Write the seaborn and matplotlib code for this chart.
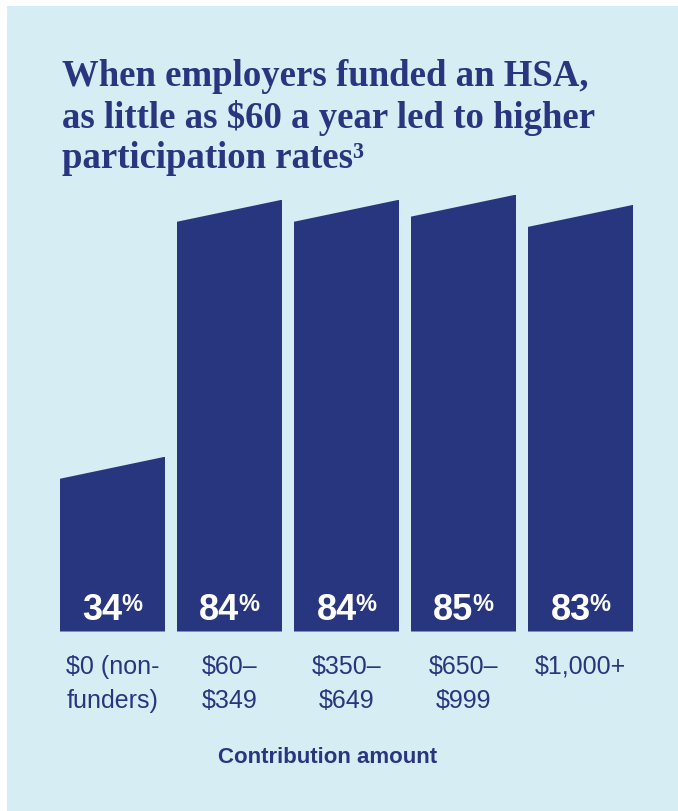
import matplotlib
matplotlib.use("Agg")
import matplotlib.pyplot as plt
from matplotlib.patches import Rectangle, Polygon
import seaborn as sns
import pandas as pd

# ---- data ----
categories = ["$0 (non-\nfunders)", "$60–\n$349", "$350–\n$649", "$650–\n$999", "$1,000+"]
participation = [34, 84, 84, 85, 83]
value_labels = ["34", "84", "84", "85", "83"]
title_lines = ["When employers funded an HSA,",
               "as little as $60 a year led to higher",
               "participation rates³"]
xlabel = "Contribution amount"

NAVY = "#283680"
BG = "#d6edf3"

sns.set_theme(style="white")
plt.rcParams["font.family"] = ["Liberation Sans", "DejaVu Sans"]

W, H = 678, 812
fig = plt.figure(figsize=(W / 100, H / 100), dpi=100)
fig.patch.set_facecolor("white")
fig.add_artist(Rectangle((7 / W, 0), 1, (H - 7) / H, transform=fig.transFigure,
                         facecolor=BG, edgecolor="none", zorder=0))

# axes: category -0.5 at 54px, 4.5 at 639px; bottom at 632px
px_per_unit = 5.14
ymax = 90
ax_h = ymax * px_per_unit
ax = fig.add_axes([54 / W, (H - 632.5) / H, 585 / W, ax_h / H])
ax.set_facecolor("none")

df = pd.DataFrame({"cat": categories, "val": participation})
sns.barplot(data=df, x="cat", y="val", ax=ax, color=NAVY, saturation=1,
            width=105 / 117, edgecolor="none", linewidth=0)
ax.set_xlim(-0.5, 4.5)
ax.set_ylim(0, ymax)
for s in ax.spines.values():
    s.set_visible(False)
ax.set_yticks([])
ax.set_xlabel("")
ax.set_ylabel("")
ax.tick_params(axis="x", length=0, pad=16, labelsize=18, labelcolor=NAVY)
for lab in ax.get_xticklabels():
    lab.set_linespacing(1.55)

# slanted tops via clipping
slant = 22 / px_per_unit
for p in ax.patches:
    x0 = p.get_x()
    x1 = x0 + p.get_width()
    h = p.get_height()
    clip = Polygon([(x0, 0), (x1, 0), (x1, h), (x0, h - slant)], closed=True,
                   transform=ax.transData, facecolor="none", edgecolor="none")
    p.set_clip_path(clip)

# value labels: number + superscript percent
fig.canvas.draw()
r = fig.canvas.get_renderer()
for p, lab in zip(ax.patches, value_labels):
    cx = p.get_x() + p.get_width() / 2
    tn = ax.annotate(lab, (cx, 0), xytext=(0, 12), textcoords="offset pixels",
                     ha="left", va="baseline", color="white", fontsize=26,
                     fontweight="bold")
    tp = ax.annotate("%", (cx, 0), xytext=(0, 21), textcoords="offset pixels",
                     ha="left", va="baseline", color="white", fontsize=17,
                     fontweight="bold")
    wn = tn.get_window_extent(r).width
    wp = tp.get_window_extent(r).width
    gap = -1
    total = wn + gap + wp
    tn.set_position((-total / 2, 12))
    tp.set_position((-total / 2 + wn + gap, 21))

# title lines
for i, line in enumerate(title_lines):
    base = [86, 127.5, 168][i]
    fig.text(62 / W, 1 - base / H, line, ha="left", va="baseline",
             fontsize=26.5, fontweight="bold", color=NAVY,
             family=["Liberation Serif", "DejaVu Serif"])

fig.text(328 / W, 1 - 763 / H, xlabel, ha="center", va="baseline",
         fontsize=16, fontweight="bold", color=NAVY)

fig.savefig("out.png", dpi=100)
